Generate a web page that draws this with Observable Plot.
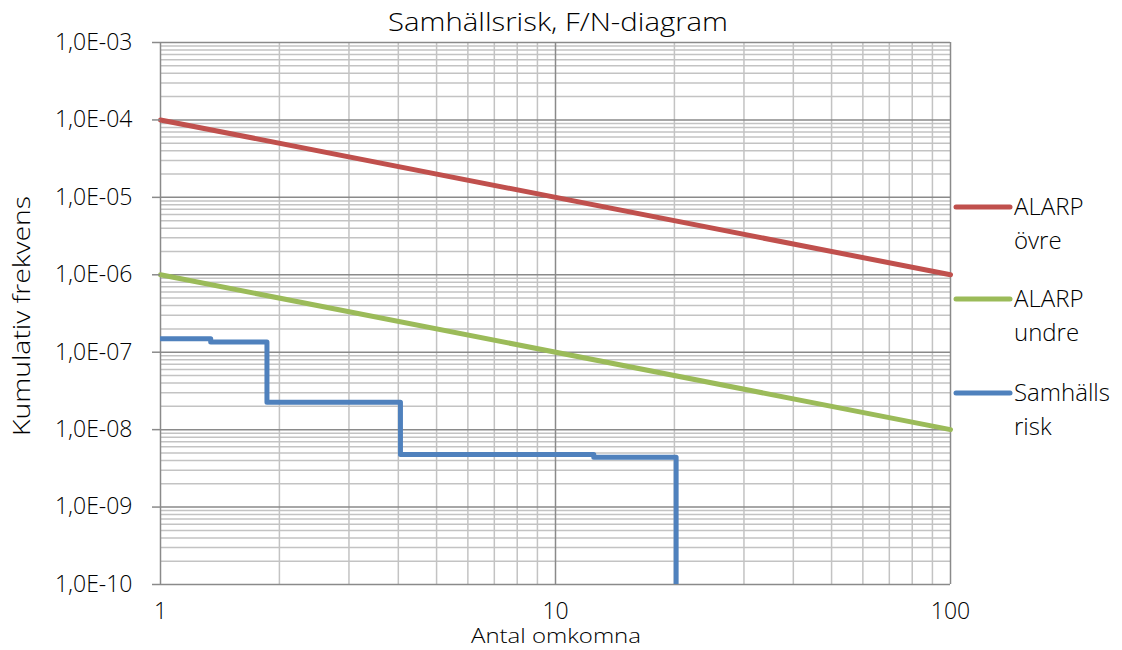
<!DOCTYPE html>
<html><head><meta charset="utf-8">
<script src="https://cdn.jsdelivr.net/npm/d3@7"></script>
<script src="https://cdn.jsdelivr.net/npm/@observablehq/plot@0.6"></script>
<style>
body{margin:0;background:#fff;}
svg text{font-family:"Open Sans",sans-serif;font-weight:300;}
</style>
</head><body>
<div id="chart"></div>
<script>
const title = "Samhällsrisk, F/N-diagram";
const xLabel = "Antal omkomna";
const yLabel = "Kumulativ frekvens";
const xTicks = [1, 10, 100];
const yTicks = [1e-10, 1e-9, 1e-8, 1e-7, 1e-6, 1e-5, 1e-4, 1e-3];
const seriesNames = [["ALARP", "övre"], ["ALARP", "undre"], ["Samhälls", "risk"]];
const colors = ["#C0504D", "#9BBB59", "#4F81BD"];
const alarpUpperN = [1, 100];
const alarpUpperF = [1e-4, 1e-6];
const alarpLowerN = [1, 100];
const alarpLowerF = [1e-6, 1e-8];
const riskN = [1, 1.34, 1.86, 4.05, 12.5, 20.2];
const riskF = [1.49e-7, 1.35e-7, 2.26e-8, 4.78e-9, 4.41e-9, 1e-12];

const mult = [2,3,4,5,6,7,8,9];
const minorX = xTicks.slice(0,-1).flatMap(d => mult.map(m => d*m));
const minorY = yTicks.slice(0,-1).flatMap(d => mult.map(m => d*m));

const toRows = (N, F) => N.map((n,i) => ({N:n, F:F[i]}));
const upper = toRows(alarpUpperN, alarpUpperF);
const lower = toRows(alarpLowerN, alarpLowerF);
const risk = toRows(riskN, riskF);

const fmt = d => "1,0E-" + String(-Math.round(Math.log10(d))).padStart(2,"0");

const W = 1122, H = 650;
const chart = Plot.plot({
  width: W, height: H,
  marginLeft: 160, marginRight: 172, marginTop: 42, marginBottom: 66,
  style: {fontFamily: "Open Sans", fontSize: "23px", color: "#000", background: "#fff"},
  x: {type: "log", domain: [1, 100], label: null},
  y: {type: "log", domain: [1e-10, 1e-3], label: null},
  marks: [
    Plot.ruleX(minorX, {stroke: "#c3c3c3", strokeWidth: 1.5}),
    Plot.ruleY(minorY, {stroke: "#c3c3c3", strokeWidth: 1.5}),
    Plot.ruleX(xTicks, {stroke: "#8a8a8a", strokeWidth: 1.5}),
    Plot.ruleY(yTicks, {stroke: "#8a8a8a", strokeWidth: 1.5}),
    Plot.line(upper, {x: "N", y: "F", stroke: colors[0], strokeWidth: 5}),
    Plot.line(lower, {x: "N", y: "F", stroke: colors[1], strokeWidth: 5}),
    Plot.line(risk, {x: "N", y: "F", stroke: colors[2], strokeWidth: 5, curve: "step-after", clip: true}),
    Plot.axisY({ticks: yTicks, tickFormat: fmt, tickSize: 8, tickPadding: 20, stroke: "#8a8a8a", strokeWidth: 1.5, fontSize: 23, fill: "#000"}),
    Plot.axisX({ticks: xTicks, tickFormat: d => String(d), tickSize: 0, tickPadding: 18, fontSize: 23, fill: "#000"})
  ]
});
document.getElementById("chart").appendChild(chart);

const svg = d3.select(chart);
svg.append("text").attr("x", 558).attr("y", 31).attr("text-anchor", "middle")
  .attr("font-size", 26).attr("textLength", 340).attr("lengthAdjust", "spacingAndGlyphs").text(title);
svg.append("text").attr("x", 556).attr("y", 643).attr("text-anchor", "middle")
  .attr("font-size", 21).attr("textLength", 170).attr("lengthAdjust", "spacingAndGlyphs").text(xLabel);
svg.append("text").attr("transform", "translate(30,316) rotate(-90)").attr("text-anchor", "middle")
  .attr("font-size", 23).attr("textLength", 240).attr("lengthAdjust", "spacingAndGlyphs").text(yLabel);

const legY = [207, 299, 393];
seriesNames.forEach((nm, i) => {
  svg.append("line").attr("x1", 956).attr("x2", 1010).attr("y1", legY[i]).attr("y2", legY[i])
    .attr("stroke", colors[i]).attr("stroke-width", 5).attr("stroke-linecap", "round");
  svg.append("text").attr("x", 1014).attr("y", legY[i] + 8).attr("text-anchor", "start").attr("font-size", 24).text(nm[0]);
  svg.append("text").attr("x", 1014).attr("y", legY[i] + 42).attr("text-anchor", "start").attr("font-size", 24).text(nm[1]);
});
</script>
</body></html>
